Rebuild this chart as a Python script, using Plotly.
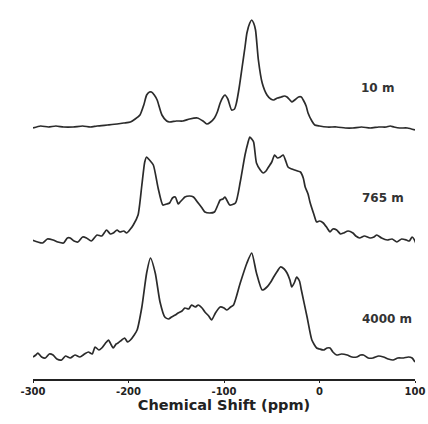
import plotly.graph_objects as go

# Chemical shift (ppm) and relative intensities
ppm_10 = [-300, -292, -284, -276, -268, -258, -248, -240, -233, -222, -212, -205, -198, -193,
          -188, -184, -181, -178, -176, -173, -170, -165, -160, -157, -150, -143, -136, -128,
          -122, -118, -114, -110, -107, -104, -101, -99, -96, -92, -89, -87, -84, -81, -78,
          -76, -73, -71, -69, -67, -64, -60, -55, -51, -48, -44, -40, -37, -34, -31, -29, -26,
          -22, -19, -17, -14, -12, -8, -5, 0, 8, 18, 27, 35, 44, 53, 62, 70, 74, 78, 84, 92, 100]
int_10 = [-1, 1, 0, 1, 0, 0, 1, 0, 1, 2, 3, 4, 5, 8,
          12, 22, 32, 35, 35, 32, 27, 12, 6, 5, 6, 6, 8, 9,
          6, 3, 5, 9, 15, 24, 30, 32, 28, 17, 18, 24, 40, 60, 80,
          94, 104, 107, 104, 97, 67, 44, 32, 28, 27, 29, 30, 31, 30, 27, 25, 27,
          30, 30, 27, 21, 14, 6, 2, 1, 0, 0, -1, -1, 0, -1, 0, 0, 1, 0, -1, -1, -3]

ppm_765 = [-301, -295, -290, -285, -279, -274, -268, -264, -261, -257, -253, -248, -244, -239,
           -233, -228, -223, -219, -216, -212, -209, -205, -202, -198, -195, -190,
           -186, -183, -181, -178, -174, -169, -164, -160, -157, -154, -151, -148, -146, -143,
           -141, -136, -132, -127, -123, -120, -115, -110, -106,
           -104, -101, -99, -96, -94, -88, -83, -78, -75, -73, -71, -69, -66, -62, -59, -56,
           -54, -50, -47, -44, -41, -38, -35, -33, -29, -26, -23,
           -20, -17, -15, -12, -10, -6, -3, 0, 4, 8, 11, 14, 18, 22, 25, 30, 35, 38, 42, 47, 53,
           57, 60, 65, 71, 76, 81, 86, 91, 94, 97, 100, 102]
int_765 = [0, -2, -3, 1, 0, -2, -3, 2, 2, -1, -2, 3, 2, -1,
           5, 4, 10, 6, 7, 10, 8, 9, 7, 11, 15, 25,
           55, 78, 83, 80, 75, 52, 35, 36, 37, 42, 43, 36, 38, 41,
           43, 44, 43, 37, 32, 28, 27, 28, 36,
           40, 41, 43, 38, 35, 37, 58, 85, 97, 103, 101, 98, 77, 70, 67, 69,
           72, 78, 85, 82, 83, 85, 78, 73, 71, 70, 69,
           68, 62, 53, 46, 38, 26, 18, 19, 17, 12, 8, 11, 10, 6, 7, 9, 7, 4, 2, 4, 2,
           3, 5, 2, 0, 1, -2, 1, 0, -1, 3, -1, -7]

ppm_4000 = [-300, -297, -295, -291, -287, -283, -279, -275, -270, -266, -261, -256, -251, -246,
            -242, -238, -235, -231, -228, -224, -221, -218, -216, -213, -211, -207, -204,
            -201, -198, -194, -191, -186, -181, -177, -172, -167, -162, -158, -155, -151, -148,
            -144, -141, -137, -134, -130, -127, -123, -120, -116,
            -113, -109, -104, -100, -97, -93, -90, -83, -76, -71, -66, -60, -55, -51, -48, -44,
            -41, -37, -34, -31, -29, -26, -24, -21, -19,
            -13, -8, -3, 0, 4, 8, 11, 14, 18, 23, 29, 34, 39, 43, 46, 51, 56, 62, 67, 72, 77,
            82, 88, 93, 97, 100]
int_4000 = [0, 2, 4, 0, -1, 3, 2, -2, -3, 1, -1, 2, 0, 3,
            5, 3, 10, 7, 9, 14, 17, 12, 9, 13, 14, 17, 19,
            15, 17, 22, 27, 50, 84, 99, 84, 55, 40, 38, 40, 42, 44,
            46, 49, 48, 52, 50, 52, 49, 45, 41,
            37, 44, 50, 49, 47, 50, 52, 74, 94, 104, 84, 67, 70, 75, 80, 86,
            90, 88, 84, 77, 70, 75, 80, 76, 67,
            40, 17, 9, 8, 7, 9, 9, 5, 2, 3, 2, 0, 0, 2, 2, -1, -1, 1, 0, -2, -3,
            -1, -1, 0, -1, -5]

labels = ["10 m", "765 m", "4000 m"]
tick_vals = [-300, -200, -100, 0, 100]
tick_text = ["-300", "-200", "-100", "0", "100"]

offsets = [252, 139, 22]
label_pos = [(61, 291), (66, 181), (71, 60)]

FONT = "DejaVu Sans, Liberation Sans, Arial"

fig = go.Figure()
for xs, ys, off in [(ppm_10, int_10, offsets[0]), (ppm_765, int_765, offsets[1]),
                    (ppm_4000, int_4000, offsets[2])]:
    fig.add_trace(go.Scatter(x=xs, y=[v + off for v in ys], mode="lines",
                             line=dict(color="#2b2b2b", width=1.7, shape="spline",
                                       smoothing=0.6),
                             showlegend=False, hoverinfo="skip"))

for lab, (lx, ly) in zip(labels, label_pos):
    fig.add_annotation(x=lx, y=ly, text="<b>" + lab + "</b>", showarrow=False,
                       font=dict(family=FONT, size=12, color="#333"))

fig.update_layout(
    width=428, height=424,
    margin=dict(l=33, r=13, t=0, b=45),
    paper_bgcolor="white", plot_bgcolor="white",
    xaxis=dict(range=[-300, 100], tickvals=tick_vals,
               ticktext=["<b>" + t + "</b>" for t in tick_text],
               showgrid=False, zeroline=False, showline=True, linecolor="#222",
               linewidth=1.6, ticks="outside", ticklen=2, tickcolor="#222",
               tickfont=dict(family=FONT, size=10, color="#222"),
               title=dict(text="<b>Chemical Shift (ppm)</b>", standoff=4,
                          font=dict(family=FONT, size=14.5, color="#222"))),
    yaxis=dict(range=[0, 379], visible=False),
)

fig.write_html("out.html")
